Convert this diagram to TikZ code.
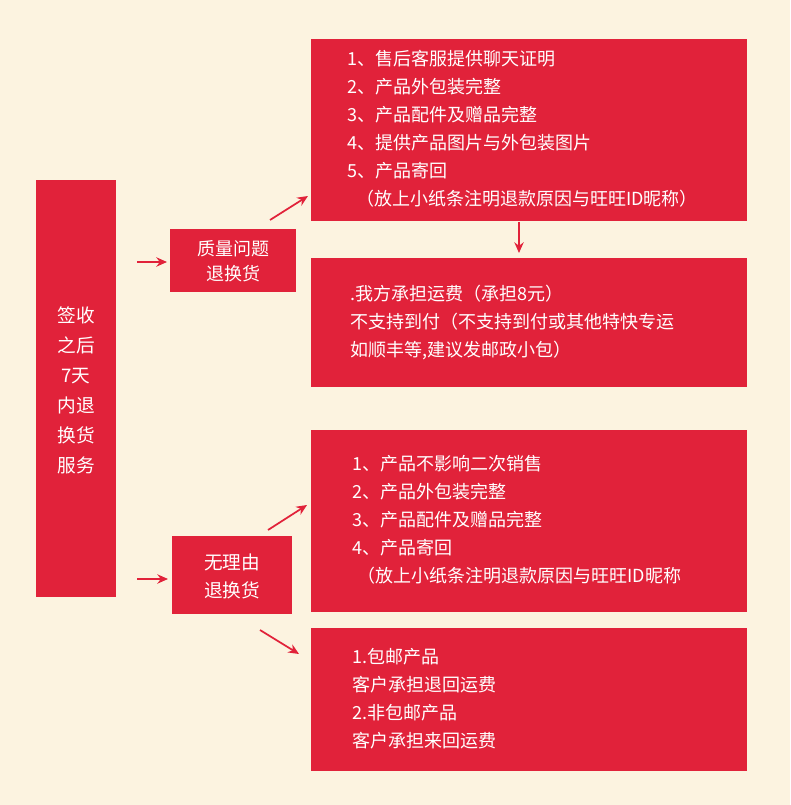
\documentclass[tikz,border=0pt]{standalone}
\usepackage{fontspec}
\newfontfamily\cjk{Noto Sans CJK SC}
\usetikzlibrary{arrows.meta}
\definecolor{bg}{HTML}{FCF3E0}
\definecolor{rd}{HTML}{E1223A}
\begin{document}
\begin{tikzpicture}[x=0.75pt,y=-0.75pt,
  box/.style={fill=rd,draw=none,inner sep=0pt,anchor=north west},
  txt/.style={text=white,font=\cjk\fontsize{13.5}{21}\selectfont,align=left,anchor=north west,inner sep=0pt},
  arr/.style={draw=rd,line width=1.3pt,-{Stealth[length=8pt,width=7pt]}}]
\fill[bg] (0,0) rectangle (790,805);
\fill[rd] (36,180) rectangle (116,597);
\node[text=white,font=\cjk\fontsize{14}{22.5}\selectfont,align=center] (L) at (76,390) {签收\\之后\\7天\\内退\\换货\\服务};
\fill[rd] (170,229) rectangle (296,292);
\node[text=white,font=\cjk\fontsize{13.5}{19}\selectfont,align=center] (Q) at (233,261) {质量问题\\退换货};
\fill[rd] (172,536) rectangle (292,614);
\node[text=white,font=\cjk\fontsize{14}{21}\selectfont,align=center] (W) at (232,576) {无理由\\退换货};
\fill[rd] (311,39) rectangle (747,221);
\fill[rd] (311,258) rectangle (747,387);
\fill[rd] (311,430) rectangle (747,612);
\fill[rd] (311,628) rectangle (747,771);
\node[txt] (B1) at (347,50) {1、售后客服提供聊天证明\\2、产品外包装完整\\3、产品配件及赠品完整\\4、提供产品图片与外包装图片\\5、产品寄回\\\hspace*{0.5em}（放上小纸条注明退款原因与旺旺ID昵称）};
\node[txt] (B2) at (350,285) {.我方承担运费（承担8元）\\不支持到付（不支持到付或其他特快专运\\如顺丰等,建议发邮政小包）};
\node[txt] (B3) at (352,455) {1、产品不影响二次销售\\2、产品外包装完整\\3、产品配件及赠品完整\\4、产品寄回\\\hspace*{0.3em}（放上小纸条注明退款原因与旺旺ID昵称};
\node[txt] (B4) at (352,648) {1.包邮产品\\客户承担退回运费\\2.非包邮产品\\客户承担来回运费};
\coordinate (a1) at (137,262); \coordinate (a2) at (167,262);
\coordinate (b1) at (270,220); \coordinate (b2) at (308,196);
\coordinate (c1) at (519,222); \coordinate (c2) at (519,253);
\coordinate (d1) at (137,579); \coordinate (d2) at (168,579);
\coordinate (e1) at (268,530); \coordinate (e2) at (307,505);
\coordinate (f1) at (260,630); \coordinate (f2) at (299,654);
\draw[arr] (a1)--(a2); \draw[arr] (b1)--(b2); \draw[arr] (c1)--(c2);
\draw[arr] (d1)--(d2); \draw[arr] (e1)--(e2); \draw[arr] (f1)--(f2);
\end{tikzpicture}
\end{document}
